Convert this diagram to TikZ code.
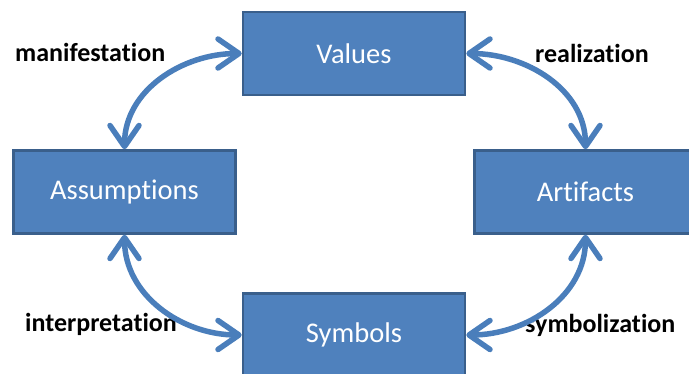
\documentclass[tikz,border=0pt]{standalone}
\usepackage{fontspec}
\setmainfont{Carlito}[Ligatures={NoCommon,NoContextual}]
\usepackage{xcolor}
\usetikzlibrary{arrows.meta}
\definecolor{boxfill}{HTML}{4F81BD}
\definecolor{boxline}{HTML}{3A5F8B}
\definecolor{arcline}{HTML}{4A7EBB}
\tikzset{
  layer/.style={draw=boxline, line width=2.5pt, fill=boxfill, text=white,
    minimum width=222pt, minimum height=83pt, inner sep=0pt,
    font=\fontsize{28.5}{34}\selectfont},
  link/.style={draw=arcline, line width=5.5pt,
    {Straight Barb[length=21pt,width=29pt,round]}-{Straight Barb[length=21pt,width=29pt,round]}},
  tag/.style={anchor=base west, inner sep=0pt, font=\fontsize{26}{30}\selectfont\bfseries}
}
\begin{document}
\begin{tikzpicture}[x=1pt,y=1pt]
  \useasboundingbox (0,0) rectangle (689,374);
  \node (val) [layer] at (354,320.5) {Values};
  \node (asm) [layer] at (124.5,182) {Assumptions};
  \node (art) [layer] at (585.5,182) {Artifacts};
  \node (sym) [layer] at (354,39) {Symbols};
  \node (man) [tag] at (15,312.3) {manifestation};
  \node (rea) [tag] at (535,311) {realization};
  \node (int) [tag] at (25,42) {interpretation};
  \node (syb) [tag] at (525,41) {symbolization};
  \draw[link] (val.west) to[out=180,in=90] (asm.north);
  \draw[link] (val.east) to[out=0,in=90] (art.north);
  \draw[link] (asm.south) to[out=-90,in=180] (sym.west);
  \draw[link] (sym.east) to[out=0,in=-90] (art.south);
\end{tikzpicture}
\end{document}
